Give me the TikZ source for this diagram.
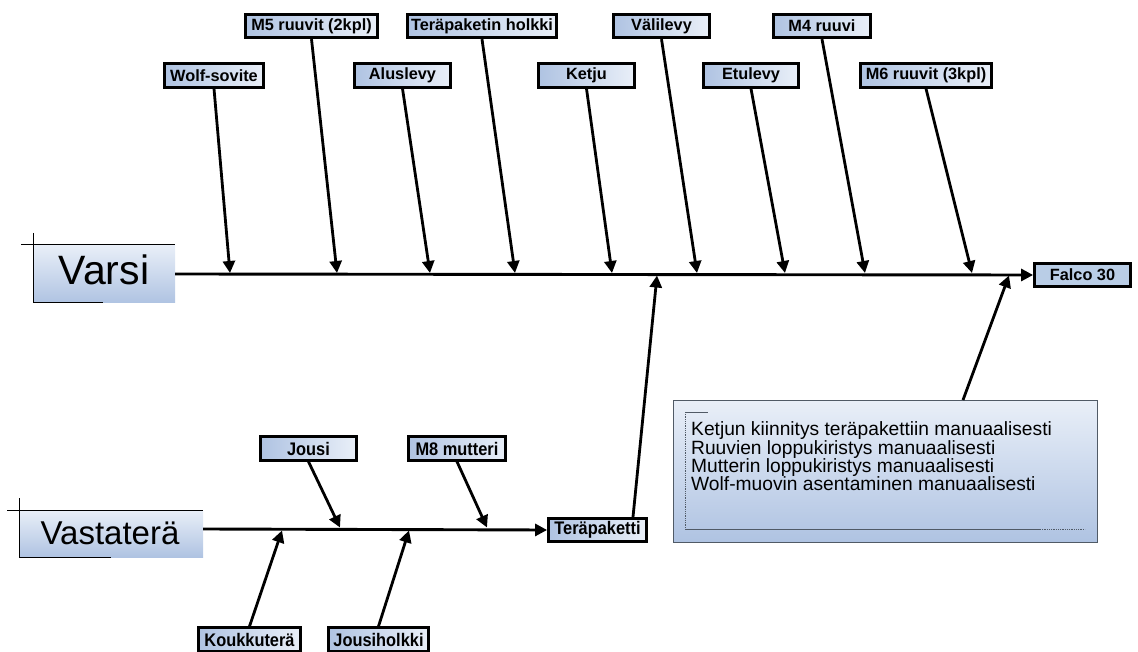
\documentclass[tikz,border=0pt]{standalone}
\usepackage{fontspec}
\setmainfont{Liberation Sans}
\usetikzlibrary{arrows.meta}
\definecolor{gl}{HTML}{E9EFF8}
\definecolor{gd}{HTML}{AFC3E2}
\definecolor{falc}{HTML}{B9CDE6}
\definecolor{tbord}{HTML}{505A66}
\tikzset{
  lbl/.style={draw=black, line width=2.8pt, left color=gd, right color=gl, inner sep=0pt,
    minimum height=23.5pt, font=\bfseries\fontsize{16.3}{18}\selectfont},
  lblb/.style={lbl, font=\bfseries\fontsize{18.2}{20}\selectfont},
  bigbox/.style={top color=gl, bottom color=gd, inner sep=0pt},
  arr/.style={line width=2.8pt, -{Triangle[length=12pt,width=12pt]}},
  spine/.style={line width=2.9pt},
  deco/.style={line width=1pt, black},
  tdeco/.style={line width=0.8pt, tbord},
}
\begin{document}
\begin{tikzpicture}[x=1pt,y=-1pt]
\useasboundingbox (0,0) rectangle (1138,652);

% ---- Varsi head box
\node[bigbox, minimum width=142pt, minimum height=58pt] (varsi) at (104,274) {};
\node[anchor=base, font=\fontsize{41}{44}\selectfont] (varsitxt) at (104,285) {Varsi};
\draw[deco] (21,245) -- (175,245);
\draw[deco] (33,233) -- (33,303) -- (103,303);

% ---- Falco 30
\node[draw=black, line width=2.8pt, fill=falc, inner sep=0pt, minimum width=96pt, minimum height=23.5pt,
  font=\bfseries\fontsize{16.3}{18}\selectfont] (falco) at (1082.5,275) {Falco 30};

\draw[spine, -{Triangle[length=12pt,width=12pt]}] (varsi.east |- 0,274) -- (falco.west);

% ---- top labels
\node[lbl, minimum width=99pt]  (wolf)   at (214,75.5)  {Wolf-sovite};
\node[lbl, minimum width=132pt] (m5)     at (311.5,26)  {M5 ruuvit (2kpl)};
\node[lbl, minimum width=96pt]  (alus)   at (402.5,75.5){Aluslevy};
\node[lbl, minimum width=149pt] (holkki) at (482,26)    {Teräpaketin holkki};
\node[lbl, minimum width=96pt]  (ketju)  at (586.5,75.5){Ketju};
\node[lbl, minimum width=96pt]  (vali)   at (661.5,26)  {Välilevy};
\node[lbl, minimum width=95pt]  (etu)    at (751,75.5)  {Etulevy};
\node[lbl, minimum width=97pt]  (m4)     at (822,26)    {M4 ruuvi};
\node[lbl, minimum width=131pt] (m6)     at (926,75.5)  {M6 ruuvit (3kpl)};

\coordinate (t1) at (230,273);
\coordinate (t2) at (337,273);
\coordinate (t3) at (430,273);
\coordinate (t4) at (515,273);
\coordinate (t5) at (612,273);
\coordinate (t6) at (697,273);
\coordinate (t7) at (785,273);
\coordinate (t8) at (865,273);
\coordinate (t9) at (972,273);
\draw[arr] (wolf.south) -- (t1);
\draw[arr] (m5.south) -- (t2);
\draw[arr] (alus.south) -- (t3);
\draw[arr] (holkki.south) -- (t4);
\draw[arr] (ketju.south) -- (t5);
\draw[arr] (vali.south) -- (t6);
\draw[arr] (etu.south) -- (t7);
\draw[arr] (m4.south) -- (t8);
\draw[arr] (m6.south) -- (t9);

% ---- Vastaterä head box
\node[bigbox, minimum width=184pt, minimum height=47pt] (vasta) at (111,533.5) {};
\node[anchor=base, font=\fontsize{33}{36}\selectfont] (vastatxt) at (110,544) {Vastaterä};
\draw[deco] (7,510) -- (203,510);
\draw[deco] (19,498) -- (19,557) -- (111,557);

% ---- Teräpaketti
\node[lblb, minimum width=98pt] (tera) at (597.5,530) {\scalebox{0.9}[1]{Teräpaketti}};
\draw[spine, -{Triangle[length=12pt,width=12pt]}] (vasta.east |- 0,529) -- (tera.west);

% ---- bottom labels
\node[lblb, minimum width=96pt]  (jousi) at (308.5,448.5) {\scalebox{0.9}[1]{Jousi}};
\node[lblb, minimum width=97pt]  (m8)    at (457,448.5)   {\scalebox{0.9}[1]{M8 mutteri}};
\node[lblb, minimum width=102pt] (kouk)  at (249.5,639.5) {\scalebox{0.9}[1]{Koukkuterä}};
\node[lblb, minimum width=100pt] (jh)    at (378.5,639.5) {\scalebox{0.9}[1]{Jousiholkki}};

\coordinate (b1) at (340,527.5);
\coordinate (b2) at (487,527.5);
\coordinate (b3) at (282,530.5);
\coordinate (b4) at (409,530.5);
\draw[arr] (jousi.south) -- (b1);
\draw[arr] (m8.south) -- (b2);
\draw[arr] (kouk.north) -- (b3);
\draw[arr] (jh.north) -- (b4);

% ---- Teräpaketti to main spine
\coordinate (terastart) at (633,517);
\coordinate (teratip) at (657,275.5);
\draw[arr] (terastart) -- (teratip);

% ---- text box
\node[bigbox, draw=tbord, line width=1pt, minimum width=424pt, minimum height=142pt] (tbox) at (885,471) {};
\draw[tdeco] (685,412) -- (708,412);
\draw[tdeco, densely dotted] (685,412) -- (685,529);
\draw[tdeco] (685,529) -- (1040,529);
\draw[tdeco, densely dotted] (1040,529) -- (1085,529);
\node[anchor=base west, inner sep=0pt, font=\fontsize{19.2}{20}\selectfont] (l1) at (691,435.7) {Ketjun kiinnitys teräpakettiin manuaalisesti};
\node[anchor=base west, inner sep=0pt, font=\fontsize{19.2}{20}\selectfont] (l2) at (691,454) {Ruuvien loppukiristys manuaalisesti};
\node[anchor=base west, inner sep=0pt, font=\fontsize{19.2}{20}\selectfont] (l3) at (691,472.3) {Mutterin loppukiristys manuaalisesti};
\node[anchor=base west, inner sep=0pt, font=\fontsize{19.2}{20}\selectfont] (l4) at (691,490.7) {Wolf-muovin asentaminen manuaalisesti};

\coordinate (tstart) at (963,400);
\coordinate (ttip) at (1009,275.5);
\draw[arr] (tstart) -- (ttip);
\end{tikzpicture}
\end{document}
